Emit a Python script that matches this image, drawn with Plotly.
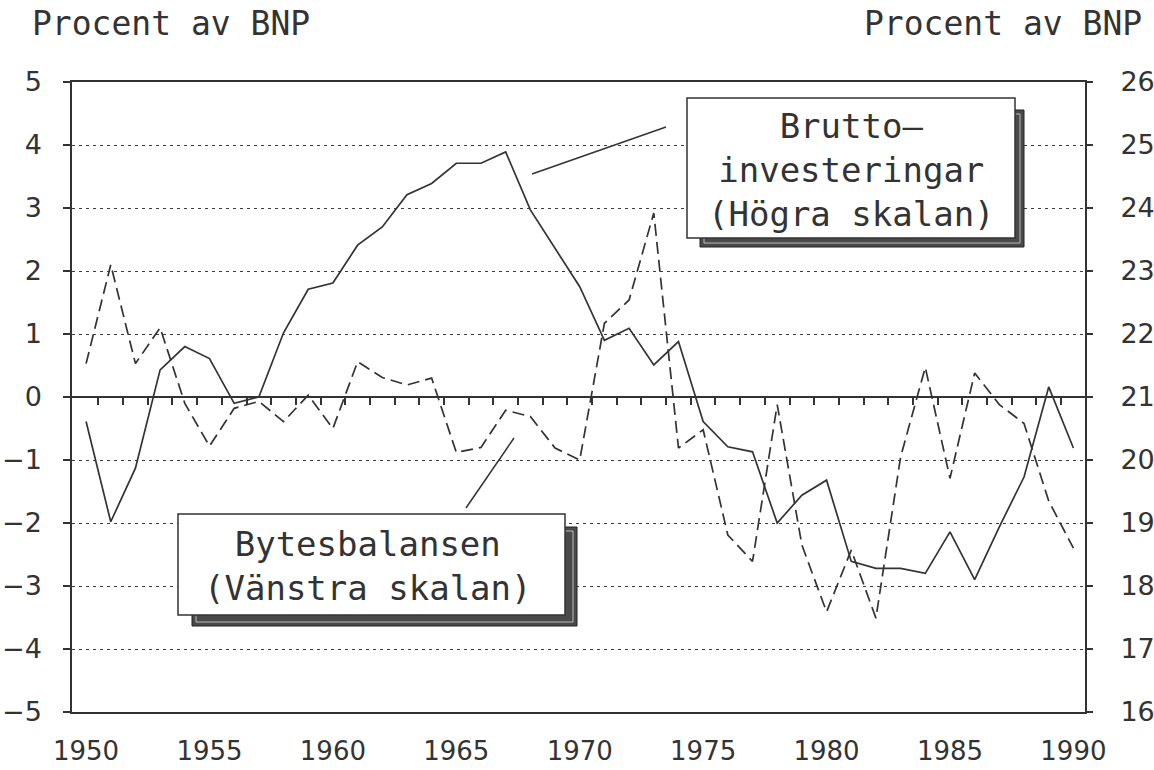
import plotly.graph_objects as go

# ---------------- data ----------------
years = list(range(1950, 1991))

# Bytesbalansen, procent av BNP (vänstra skalan)
bytesbalansen = [0.53, 2.10, 0.53, 1.10, -0.10, -0.78, -0.18, -0.07, -0.39, 0.03,
                 -0.50, 0.56, 0.31, 0.19, 0.30, -0.88, -0.80, -0.21, -0.31, -0.81,
                 -1.00, 1.17, 1.54, 2.92, -0.81, -0.52, -2.19, -2.61, -0.12, -2.35,
                 -3.41, -2.43, -3.51, -0.95, 0.47, -1.29, 0.38, -0.12, -0.42, -1.65,
                 -2.40]

# Bruttoinvesteringar, procent av BNP (högra skalan)
brutto = [20.61, 19.02, 19.87, 21.43, 21.80, 21.61, 20.90, 21.00, 22.02, 22.71,
          22.81, 23.41, 23.70, 24.21, 24.39, 24.71, 24.71, 24.89, 23.97, 23.36,
          22.75, 21.90, 22.09, 21.51, 21.88, 20.61, 20.21, 20.13, 19.00, 19.44,
          19.68, 18.39, 18.28, 18.28, 18.20, 18.86, 18.10, 18.94, 19.73, 21.16,
          20.19]

left_ticks = list(range(-5, 6))
right_ticks = list(range(16, 27))
year_ticks = list(range(1950, 1991, 5))
half_year_ticks = [y + 0.5 for y in range(1950, 1990)]

header_text = "Procent av BNP"
label_brutto = "Brutto–<br>investeringar<br>(Högra skalan)"
label_bytes = "Bytesbalansen<br>(Vänstra skalan)"

# ---------------- layout helpers (pixel -> paper) ----------------
W, H = 1154, 770
X0, X1, Y0, Y1 = 72, 1085, 82, 712


def px(x):
    return (x - X0) / (X1 - X0)


def py(y):
    return (Y1 - y) / (Y1 - Y0)


INK = "#333333"
TICKFONT = dict(family="DejaVu Sans", size=27, color=INK)
XTICKFONT = dict(family="DejaVu Sans", size=26, color=INK)
TEXTFONT = dict(family="DejaVu Sans Mono", size=34, color=INK)
HEADFONT = dict(family="DejaVu Sans Mono", size=33, color=INK)

fig = go.Figure()

fig.add_trace(go.Scatter(
    x=years, y=bytesbalansen, mode="lines", xaxis="x", yaxis="y",
    line=dict(color=INK, width=1.7, dash="12px,6px"), showlegend=False,
    hoverinfo="skip"))

fig.add_trace(go.Scatter(
    x=years, y=brutto, mode="lines", xaxis="x", yaxis="y2",
    line=dict(color=INK, width=1.7), showlegend=False, hoverinfo="skip"))

# carrier trace for the half-year tick axis drawn on the zero line
fig.add_trace(go.Scatter(
    x=[half_year_ticks[0]], y=[0], mode="lines", xaxis="x2", yaxis="y",
    line=dict(color="rgba(0,0,0,0)"), showlegend=False, hoverinfo="skip"))

xrange_ = [1949.43, 1990.47]

fig.update_layout(
    width=W, height=H,
    margin=dict(l=X0, r=W - X1, t=Y0, b=H - Y1, autoexpand=False),
    paper_bgcolor="white", plot_bgcolor="white",
    xaxis=dict(range=xrange_, tickvals=year_ticks, ticks="", showgrid=False,
               zeroline=False, showline=True, mirror=True, linecolor=INK,
               linewidth=1.5, tickfont=XTICKFONT, ticklabelstandoff=15,
               automargin=False),
    xaxis2=dict(range=xrange_, overlaying="x", anchor="free", position=0.5,
                side="bottom", tickvals=half_year_ticks, ticks="outside",
                ticklen=7, tickwidth=1.5, tickcolor=INK, showticklabels=False,
                showgrid=False, zeroline=False, showline=False,
                automargin=False),
    yaxis=dict(range=[-5, 5], tickvals=left_ticks, ticks="outside", ticklen=7,
               tickwidth=1.5, tickcolor=INK, showline=True, mirror=True,
               linecolor=INK, linewidth=1.5, showgrid=True, gridcolor="#3a3a3a",
               gridwidth=1.4, griddash="3px,4px", zeroline=True,
               zerolinecolor=INK, zerolinewidth=1.7, tickfont=TICKFONT,
               ticklabelstandoff=16, automargin=False),
    yaxis2=dict(range=[16, 26], tickvals=right_ticks, overlaying="y",
                side="right", anchor="x", ticks="outside", ticklen=7,
                tickwidth=1.5, tickcolor=INK, showgrid=False, zeroline=False,
                showline=False, tickfont=TICKFONT, ticklabelstandoff=22,
                automargin=False),
)

shapes = []


def boxed(x0, y0, x1, y1, sx0, sy0, sx1, sy1):
    # shadow
    shapes.append(dict(type="rect", xref="paper", yref="paper", layer="above",
                       x0=px(sx0), x1=px(sx1), y0=py(sy1), y1=py(sy0),
                       fillcolor="#4a4a4a", line=dict(color="#222", width=1)))
    # light inner line of shadow
    shapes.append(dict(type="rect", xref="paper", yref="paper", layer="above",
                       x0=px(sx0 + 4), x1=px(sx1 - 4), y0=py(sy1 - 4),
                       y1=py(sy0 + 4), line=dict(color="#bbbbbb", width=1)))
    # white box
    shapes.append(dict(type="rect", xref="paper", yref="paper", layer="above",
                       x0=px(x0), x1=px(x1), y0=py(y1), y1=py(y0),
                       fillcolor="white", line=dict(color=INK, width=1.5)))


boxed(687, 98, 1015, 238, 700, 110, 1024, 247)
boxed(178, 514, 565, 615, 192, 527, 577, 626)

# leader lines
shapes.append(dict(type="line", xref="paper", yref="paper", layer="above",
                   x0=px(532), y0=py(174), x1=px(666), y1=py(127),
                   line=dict(color=INK, width=1.5)))
shapes.append(dict(type="line", xref="paper", yref="paper", layer="above",
                   x0=px(466), y0=py(508), x1=px(514), y1=py(438),
                   line=dict(color=INK, width=1.5)))

fig.update_layout(shapes=shapes)

annotations = [
    dict(text=label_brutto, xref="paper", yref="paper", x=px(851), y=py(170),
         xanchor="center", yanchor="middle", showarrow=False, font=TEXTFONT,
         align="center"),
    dict(text=label_bytes, xref="paper", yref="paper", x=px(368), y=py(566),
         xanchor="center", yanchor="middle", showarrow=False, font=TEXTFONT,
         align="center"),
    dict(text=header_text, xref="paper", yref="paper", x=px(30), y=py(23),
         xanchor="left", yanchor="middle", showarrow=False, font=HEADFONT),
    dict(text=header_text, xref="paper", yref="paper", x=px(1144), y=py(23),
         xanchor="right", yanchor="middle", showarrow=False, font=HEADFONT),
]
fig.update_layout(annotations=annotations)

fig.write_html(
    "out.html",
    config={"responsive": False, "displayModeBar": False},
    post_script=("document.body.style.margin='0';"
                 "document.body.style.padding='0';"
                 "document.body.style.overflow='hidden';"),
)
